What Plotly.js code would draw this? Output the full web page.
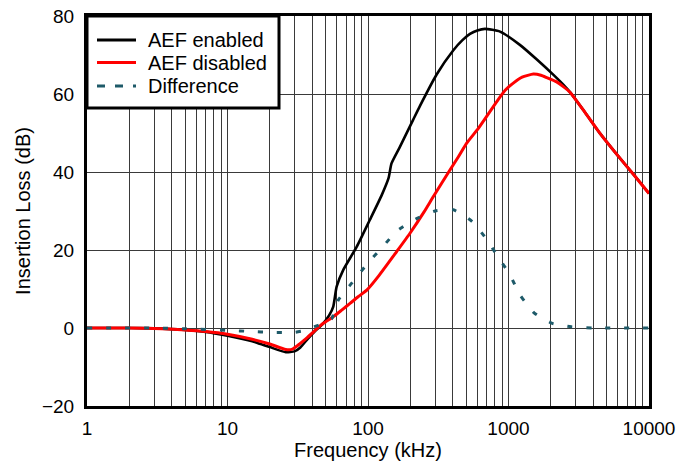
<!DOCTYPE html>
<html>
<head>
<meta charset="utf-8">
<script src="https://cdn.plot.ly/plotly-3.0.1.min.js"></script>
<style>html,body{margin:0;padding:0;background:#fff;}#chart{width:678px;height:465px;}</style>
</head>
<body>
<div id="chart"></div>
<script>
// AEF enabled
const fEnabled = [1, 2, 3, 5, 7, 10, 15, 20, 26, 30, 33, 36.6, 42, 48, 53, 56.6, 59.8, 66.7, 83, 103, 125, 140, 147, 169, 209, 234, 308, 405, 470, 532, 600, 680, 870, 1205, 1585, 2090, 2455, 2750, 3500, 4480, 6000, 8000, 10000];
const vEnabled = [0, 0, -0.1, -0.5, -1.0, -2.0, -3.4, -4.9, -6.2, -6.0, -5.0, -3.1, -0.8, 1.2, 3.3, 5.5, 10.6, 14.9, 20.8, 27.7, 34.0, 38.4, 42.2, 46.5, 53.3, 56.9, 65.0, 71.2, 73.8, 75.4, 76.3, 76.7, 76.0, 72.6, 68.9, 64.9, 62.4, 60.4, 55.3, 49.9, 44.2, 38.8, 34.5];
// AEF disabled
const fDisabled = [1, 2, 3, 5, 7, 10, 15, 20, 26, 29, 32.8, 36.6, 42, 48, 56.6, 65, 74.5, 85, 98, 120, 160, 199, 250, 292, 383, 440, 504, 610, 823, 950, 1082, 1250, 1503, 1700, 1870, 2200, 2455, 2750, 3500, 4480, 6000, 8000, 10000];
const vDisabled = [0, 0, -0.1, -0.5, -0.9, -1.6, -2.9, -4.1, -5.5, -5.4, -4.0, -2.6, -0.6, 1.2, 2.9, 4.6, 6.3, 8.0, 9.7, 13.5, 19.6, 24.3, 29.7, 33.7, 40.5, 43.9, 47.4, 51.2, 58.0, 61.0, 62.8, 64.3, 65.1, 64.8, 64.2, 63.1, 61.9, 60.4, 55.3, 49.9, 44.2, 38.8, 34.5];
// Difference
const fDiff = [1, 3, 5, 10, 15, 20, 30, 36, 41.3, 48, 55, 61.5, 77.4, 98.5, 128.5, 161, 220, 300, 405, 547, 700, 847, 1025, 1206, 1520, 2050, 2800, 4000, 10000];
const vDiff = [0, 0, -0.2, -0.6, -0.9, -1.1, -1.1, -0.6, 0.3, 1.2, 2.3, 7.2, 11.7, 16.4, 21.0, 24.9, 28.0, 30.0, 30.3, 27.4, 22.7, 18.1, 13.6, 8.5, 3.9, 1.2, 0.3, 0, 0];

const seriesNames = ['AEF enabled', 'AEF disabled', 'Difference'];
const seriesColors = ['#000000', '#ff0000', '#1e5a69'];

const xTickVals = [];
const xTickText = [];
for (const dec of [1, 10, 100, 1000]) {
  for (let m = 1; m <= 9; m++) {
    xTickVals.push(dec * m);
    xTickText.push(m === 1 ? String(dec) : '');
  }
}
xTickVals.push(10000); xTickText.push('10000');

const fontFam = 'Liberation Sans, Arial, sans-serif';

const traces = [
  {x: fEnabled, y: vEnabled, name: seriesNames[0], mode: 'lines',
   line: {color: seriesColors[0], width: 2.6, shape: 'spline', smoothing: 0.5}},
  {x: fDisabled, y: vDisabled, name: seriesNames[1], mode: 'lines',
   line: {color: seriesColors[1], width: 3, shape: 'spline', smoothing: 0.5}},
  {x: fDiff, y: vDiff, name: seriesNames[2], mode: 'lines',
   line: {color: seriesColors[2], width: 3, dash: '5px,14px', shape: 'spline', smoothing: 0.5}}
];

// Manual legend (paper coords; plot area 562 x 390 px)
const W = 562, H = 390;
const px = v => v / W;
const py = v => 1 - v / H;
const rowY = [24, 46.5, 70];
const shapes = [
  {type: 'rect', xref: 'paper', yref: 'paper', x0: px(0), x1: px(192), y0: py(92), y1: py(0),
   fillcolor: '#ffffff', line: {color: '#000000', width: 3}, layer: 'above'}
];
const annotations = [];
const dashes = ['solid', 'solid', '8px,10px'];
for (let i = 0; i < 3; i++) {
  shapes.push({type: 'line', xref: 'paper', yref: 'paper', x0: px(10), x1: px(49),
    y0: py(rowY[i]), y1: py(rowY[i]), layer: 'above',
    line: {color: seriesColors[i], width: 3, dash: dashes[i]}});
  annotations.push({xref: 'paper', yref: 'paper', x: px(59), y: py(rowY[i]),
    xanchor: 'left', yanchor: 'middle', showarrow: false, text: seriesNames[i],
    font: {size: 20, family: fontFam, color: '#000000'}});
}

const layout = {
  width: 678, height: 465,
  margin: {l: 87, r: 29, t: 16, b: 59},
  paper_bgcolor: '#ffffff', plot_bgcolor: '#ffffff',
  font: {family: fontFam, color: '#000000'},
  showlegend: false,
  shapes: shapes,
  annotations: annotations,
  xaxis: {
    type: 'log', range: [0, 4],
    tickmode: 'array', tickvals: xTickVals, ticktext: xTickText,
    showgrid: true, gridcolor: '#3a3a3a', gridwidth: 1,
    showline: true, mirror: true, linecolor: '#000000', linewidth: 3,
    ticks: '', zeroline: false, ticklabelstandoff: 3,
    tickfont: {size: 19, family: fontFam},
    title: {text: 'Frequency (kHz)', font: {size: 20, family: fontFam}, standoff: 3}
  },
  yaxis: {
    range: [-20, 80], tickmode: 'linear', tick0: -20, dtick: 20,
    showgrid: true, gridcolor: '#3a3a3a', gridwidth: 1,
    showline: true, mirror: true, linecolor: '#000000', linewidth: 3,
    ticks: '', zeroline: false, ticklabelstandoff: 6,
    tickfont: {size: 19, family: fontFam},
    title: {text: 'Insertion Loss (dB)', font: {size: 20, family: fontFam}, standoff: 6}
  }
};

Plotly.newPlot('chart', traces, layout, {displayModeBar: false, staticPlot: true});
</script>
</body>
</html>
